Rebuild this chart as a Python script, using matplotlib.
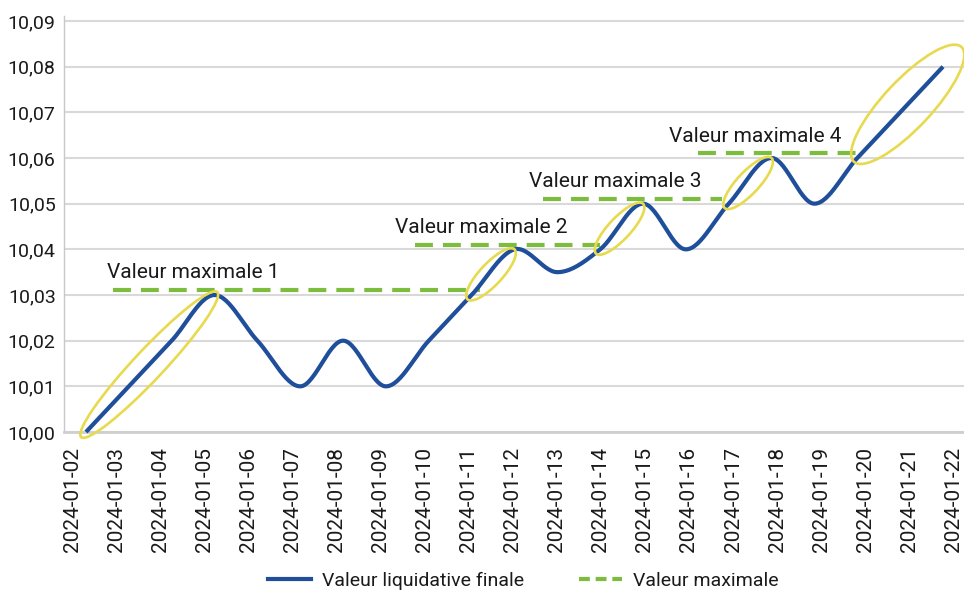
import numpy as np
import matplotlib
matplotlib.use("Agg")
import matplotlib.pyplot as plt
from matplotlib.patches import Ellipse
from matplotlib.transforms import IdentityTransform
from matplotlib.lines import Line2D

plt.rcParams['font.family'] = ['Roboto', 'DejaVu Sans']

# ---------------- data ----------------
dates = ["2024-01-02", "2024-01-03", "2024-01-04", "2024-01-05", "2024-01-06",
         "2024-01-07", "2024-01-08", "2024-01-09", "2024-01-10", "2024-01-11",
         "2024-01-12", "2024-01-13", "2024-01-14", "2024-01-15", "2024-01-16",
         "2024-01-17", "2024-01-18", "2024-01-19", "2024-01-20", "2024-01-21",
         "2024-01-22"]
values = [10.00, 10.01, 10.02, 10.03, 10.02, 10.01, 10.02, 10.01, 10.02, 10.03,
          10.04, 10.035, 10.04, 10.05, 10.04, 10.05, 10.06, 10.05, 10.06, 10.07,
          10.08]

y_ticks = [10.00, 10.01, 10.02, 10.03, 10.04, 10.05, 10.06, 10.07, 10.08, 10.09]
y_tick_labels = ["10,00", "10,01", "10,02", "10,03", "10,04", "10,05",
                 "10,06", "10,07", "10,08", "10,09"]

max_levels = [10.031, 10.041, 10.051, 10.061]
max_start = [0.63, 7.68, 10.67, 14.28]
max_end = [9.19, 12.0, 14.84, 18.13]
max_labels = ["Valeur maximale 1", "Valeur maximale 2",
              "Valeur maximale 3", "Valeur maximale 4"]
max_label_x = [0.49, 7.21, 10.34, 13.61]

# highlighted rising segments (index pairs into values)
highlight_pairs = [(0, 3), (9, 10), (12, 13), (15, 16), (18, 20)]

# ---------------- styles ----------------
BLUE = "#1F4E9A"
GREEN = "#7DBD3E"
YELLOW = "#E7DA4E"
GRID = "#D9D9D9"
TEXT = "#1A1A1A"
FS = 14

ellipse_style = [  # (extend before px, extend after px, minor width px)
    (7, 4, 30), (6, 0, 22), (6, 0, 22), (6, 0, 22), (5, 27, 48)]

fig = plt.figure(figsize=(9.64, 5.90), dpi=100)
W, H = 964, 590
ax = fig.add_axes([64 / W, 158 / H, 900 / W, 416 / H])
ax.set_xlim(-0.513, 20.49)
ax.set_ylim(10.0, 10.0911)

# grid
ax.set_yticks(y_ticks)
ax.set_yticklabels(y_tick_labels, fontsize=FS, color=TEXT)
ax.yaxis.grid(True, color=GRID, linewidth=1.5, zorder=0)
ax.set_axisbelow(True)
for s in ["top", "right"]:
    ax.spines[s].set_visible(False)
ax.spines["left"].set_color("#C8C8C8")
ax.spines["left"].set_linewidth(1.0)
ax.spines["bottom"].set_color("#CFCFCF")
ax.spines["bottom"].set_linewidth(2.0)
ax.tick_params(axis="y", length=0, pad=6)

# x tick labels spread evenly over the axis
xmin, xmax = ax.get_xlim()
tick_pos = np.linspace(xmin + 0.19, xmax - 0.25, len(dates))
ax.set_xticks(tick_pos)
ax.set_xticklabels(dates, rotation=90, fontsize=15, color=TEXT)
ax.tick_params(axis="x", length=0, pad=11)

# smooth line (Catmull-Rom through data points)
x = np.arange(len(values), dtype=float)
y = np.array(values)
px = np.concatenate([[x[0]], x, [x[-1]]])
py = np.concatenate([[y[0]], y, [y[-1]]])
sx, sy = [], []
for i in range(1, len(px) - 2):
    t = np.linspace(0, 1, 30, endpoint=False)
    for arr, out in ((px, sx), (py, sy)):
        p0, p1, p2, p3 = arr[i - 1], arr[i], arr[i + 1], arr[i + 2]
        out.extend(0.5 * ((2 * p1) + (-p0 + p2) * t
                          + (2 * p0 - 5 * p1 + 4 * p2 - p3) * t ** 2
                          + (-p0 + 3 * p1 - 3 * p2 + p3) * t ** 3))
sx.append(x[-1]); sy.append(y[-1])
ax.plot(sx, sy, color=BLUE, linewidth=3.0, solid_capstyle="butt", zorder=5,
        clip_on=False)

# maximum value dashed lines and labels
for lvl, x0, x1, lab, lx in zip(max_levels, max_start, max_end, max_labels, max_label_x):
    ax.plot([x0, x1], [lvl, lvl], color=GREEN, linewidth=3.0,
            dashes=(4.3, 2.4), dash_capstyle="butt", zorder=3)
    ax.annotate(lab, xy=(lx, lvl), xytext=(0, 8.6), textcoords="offset points",
                ha="left", va="baseline", fontsize=15, color=TEXT)

# highlight ellipses (computed in pixel space from the data points)
for (i0, i1), (eb, ea, wid) in zip(highlight_pairs, ellipse_style):
    p0 = ax.transData.transform((x[i0], y[i0]))
    p1 = ax.transData.transform((x[i1], y[i1]))
    d = p1 - p0
    u = d / np.hypot(*d)
    ts = p0 - u * eb
    te = p1 + u * ea
    c = (ts + te) / 2
    L = np.hypot(*(te - ts))
    ang = np.degrees(np.arctan2(d[1], d[0]))
    e = Ellipse(c, L, wid, angle=ang, fill=False, edgecolor=YELLOW,
                linewidth=1.9, transform=IdentityTransform(), zorder=4,
                clip_on=False)
    fig.add_artist(e)

# legend
handles = [Line2D([], [], color=BLUE, linewidth=3.0),
           Line2D([], [], color=GREEN, linewidth=3.0, dashes=(2.6, 1.4))]
fig.legend(handles, ["Valeur liquidative finale", "Valeur maximale"],
           loc="center", bbox_to_anchor=(0.543, 0.016), ncol=2, frameon=False,
           fontsize=FS, handlelength=2.2, handletextpad=0.6, columnspacing=2.8,
           labelcolor=TEXT)

fig.savefig("out.png", dpi=100)
